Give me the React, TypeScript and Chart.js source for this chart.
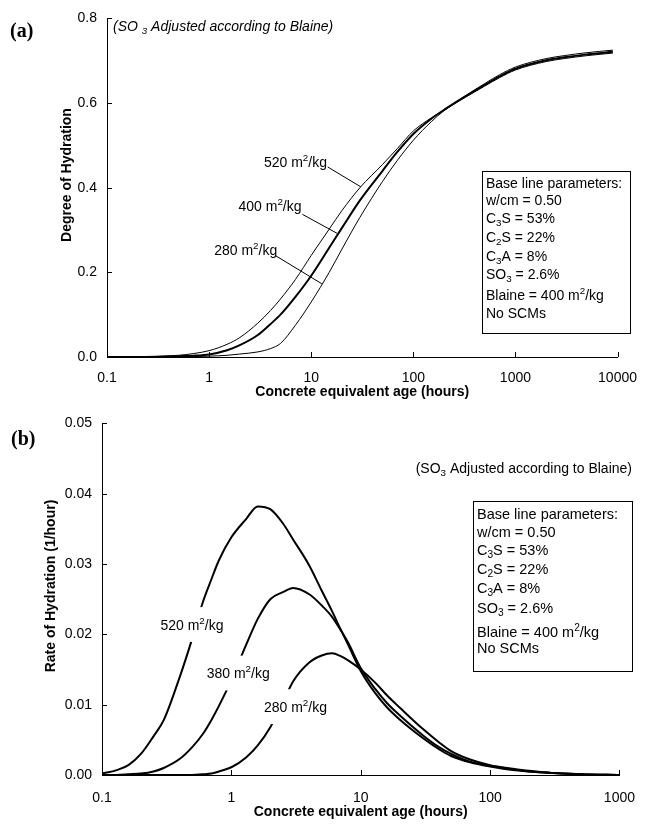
import React, { useEffect, useRef } from 'react';
import { Chart, registerables } from 'chart.js';

Chart.register(...registerables);

const FONT = "'Liberation Sans', Arial, Helvetica, sans-serif";
const SERIF = "'Liberation Serif', 'Times New Roman', serif";
Chart.defaults.font.family = FONT;
Chart.defaults.color = '#000';

// ---------- Panel (a): degree of hydration ----------
const ageA = [0.1, 0.2, 0.3, 0.5, 0.7, 1, 1.5, 2, 3, 4, 5, 7, 10, 15, 20, 30, 50, 70, 100, 150, 200, 300, 500, 700, 1000, 2000, 3000, 5000, 9000];
const doh520 = [0, 0.0005, 0.001, 0.004, 0.008, 0.015, 0.03, 0.046, 0.08, 0.11, 0.137, 0.183, 0.24, 0.302, 0.346, 0.4, 0.455, 0.493, 0.534, 0.565, 0.583, 0.609, 0.64, 0.66, 0.678, 0.698, 0.705, 0.712, 0.718];
const doh400 = [0, 0, 0.0005, 0.002, 0.003, 0.006, 0.016, 0.028, 0.052, 0.078, 0.1, 0.142, 0.192, 0.258, 0.305, 0.37, 0.44, 0.485, 0.527, 0.563, 0.584, 0.611, 0.643, 0.663, 0.681, 0.701, 0.708, 0.715, 0.721];
const doh280 = [0, 0, 0, 0.0003, 0.001, 0.002, 0.004, 0.007, 0.012, 0.02, 0.032, 0.075, 0.13, 0.2, 0.255, 0.33, 0.415, 0.465, 0.512, 0.556, 0.582, 0.612, 0.646, 0.667, 0.685, 0.705, 0.712, 0.719, 0.725];
const xTicksA = [0.1, 1, 10, 100, 1000, 10000];
const yTicksA = [0, 0.2, 0.4, 0.6, 0.8];

// ---------- Panel (b): rate of hydration ----------
const ageB = [0.1, 0.13, 0.16, 0.2, 0.25, 0.3, 0.4, 0.5, 0.6, 0.7, 0.8, 1, 1.3, 1.6, 2, 2.5, 3, 4, 5, 6, 7, 8, 10, 13, 16, 20, 30, 40, 50, 70, 100, 150, 200, 300, 500, 1000];
const rate520 = [0.0002, 0.0007, 0.0014, 0.003, 0.0055, 0.0078, 0.014, 0.0195, 0.0245, 0.0278, 0.0305, 0.0338, 0.0364, 0.0382, 0.0378, 0.0358, 0.0335, 0.0298, 0.0262, 0.0233, 0.0207, 0.0185, 0.0148, 0.0116, 0.0096, 0.0079, 0.0053, 0.0037, 0.0027, 0.0018, 0.0012, 0.0007, 0.0005, 0.0003, 0.0001, 0];
const rate380 = [0, 0, 0.0001, 0.0002, 0.0005, 0.001, 0.0023, 0.004, 0.0058, 0.0078, 0.0098, 0.0135, 0.0185, 0.0222, 0.025, 0.026, 0.0266, 0.0257, 0.0241, 0.0225, 0.0206, 0.0188, 0.0152, 0.0122, 0.0102, 0.0085, 0.0057, 0.004, 0.003, 0.0019, 0.0013, 0.0008, 0.0005, 0.0003, 0.0001, 0];
const rate280 = [0, 0, 0, 0, 0, 0, 0, 0, 0.0001, 0.0002, 0.0005, 0.0011, 0.0025, 0.0042, 0.0068, 0.0103, 0.0133, 0.016, 0.017, 0.0173, 0.0169, 0.0163, 0.015, 0.0131, 0.0113, 0.0096, 0.0066, 0.0047, 0.0034, 0.0022, 0.0014, 0.0009, 0.0006, 0.0003, 0.0001, 0];
const xTicksB = [0.1, 1, 10, 100, 1000];
const yTicksB = [0, 0.01, 0.02, 0.03, 0.04, 0.05];

const paramLines = [
  'Base line parameters:',
  'w/cm = 0.50',
  'C_3S = 53%',
  'C_2S = 22%',
  'C_3A = 8%',
  'SO_3 = 2.6%',
  'Blaine = 400 m^2/kg',
  'No SCMs',
];

// ---------- rich text helpers ----------
type Seg = { s: string; k: 'n' | 'sub' | 'sup' };
function parseRich(text: string): Seg[] {
  const segs: Seg[] = [];
  let buf = '';
  let i = 0;
  while (i < text.length) {
    const c = text[i];
    if ((c === '_' || c === '^') && i + 1 < text.length) {
      if (buf) { segs.push({ s: buf, k: 'n' }); buf = ''; }
      segs.push({ s: text[i + 1], k: c === '_' ? 'sub' : 'sup' });
      i += 2;
    } else {
      buf += c;
      i++;
    }
  }
  if (buf) segs.push({ s: buf, k: 'n' });
  return segs;
}
type RichOpt = { bold?: boolean; italic?: boolean; family?: string; align?: 'left' | 'center' | 'right'; bg?: { px: number; py: number } };
function fontStr(size: number, o: RichOpt) {
  return `${o.italic ? 'italic ' : ''}${o.bold ? 'bold ' : ''}${size}px ${o.family || FONT}`;
}
function drawRich(ctx: CanvasRenderingContext2D, text: string, x: number, y: number, size: number, o: RichOpt) {
  const segs = parseRich(text);
  let w = 0;
  segs.forEach((sg) => {
    ctx.font = fontStr(sg.k === 'n' ? size : size * 0.7, o);
    w += ctx.measureText(sg.s).width;
  });
  const x0 = o.align === 'center' ? x - w / 2 : o.align === 'right' ? x - w : x;
  if (o.bg) {
    ctx.fillStyle = '#fff';
    ctx.fillRect(x0 - o.bg.px, y - size * 0.6 - o.bg.py, w + 2 * o.bg.px, size * 1.2 + 2 * o.bg.py);
  }
  ctx.fillStyle = '#000';
  ctx.textAlign = 'left';
  ctx.textBaseline = 'alphabetic';
  const base = y + size * 0.36;
  let cx = x0;
  segs.forEach((sg) => {
    const sz = sg.k === 'n' ? size : size * 0.7;
    ctx.font = fontStr(sz, o);
    const dy = sg.k === 'sub' ? size * 0.22 : sg.k === 'sup' ? -size * 0.4 : 0;
    ctx.fillText(sg.s, cx, base + dy);
    cx += ctx.measureText(sg.s).width;
  });
}

type CurveLabel = { text: string; t: number; v: number; from?: [number, number]; to?: [number, number]; bg?: { px: number; py: number } };
type NotesCfg = {
  panel: { text: string; x: number; y: number };
  note: { text: string; x: number; y: number; italic: boolean; align: 'left' | 'right' };
  yTitle: { text: string; x: number; y: number };
  box: { x: number; y: number; w: number; h: number; tx: number; ys: number[]; size: number };
  labels: CurveLabel[];
};

function makeNotes(cfg: NotesCfg) {
  return {
    id: 'notes',
    afterDraw(chart: any) {
      const ctx: CanvasRenderingContext2D = chart.ctx;
      const xs = chart.scales.x;
      const ys = chart.scales.y;
      const a = chart.chartArea;
      ctx.save();
      // inward tick marks
      ctx.strokeStyle = '#000';
      ctx.lineWidth = 1;
      ctx.beginPath();
      xs.ticks.forEach((t: any) => {
        const px = Math.round(xs.getPixelForValue(t.value)) + 0.5;
        ctx.moveTo(px, a.bottom);
        ctx.lineTo(px, a.bottom - 5);
      });
      ys.ticks.forEach((t: any) => {
        const py = Math.round(ys.getPixelForValue(t.value)) + 0.5;
        ctx.moveTo(a.left, py);
        ctx.lineTo(a.left + 5, py);
      });
      ctx.stroke();
      // leader lines
      cfg.labels.forEach((l) => {
        if (l.from && l.to) {
          ctx.beginPath();
          ctx.lineWidth = 1;
          ctx.strokeStyle = '#000';
          ctx.moveTo(xs.getPixelForValue(l.from[0]), ys.getPixelForValue(l.from[1]));
          ctx.lineTo(xs.getPixelForValue(l.to[0]), ys.getPixelForValue(l.to[1]));
          ctx.stroke();
        }
      });
      // curve labels
      cfg.labels.forEach((l) => {
        drawRich(ctx, l.text, xs.getPixelForValue(l.t), ys.getPixelForValue(l.v), 14, { align: 'center', bg: l.bg });
      });
      // panel letter
      drawRich(ctx, cfg.panel.text, cfg.panel.x, cfg.panel.y, 20, { bold: true, family: SERIF, align: 'left' });
      // note
      drawRich(ctx, cfg.note.text, cfg.note.x, cfg.note.y, 14, { italic: cfg.note.italic, align: cfg.note.align });
      // y title
      ctx.save();
      ctx.translate(cfg.yTitle.x, cfg.yTitle.y);
      ctx.rotate(-Math.PI / 2);
      drawRich(ctx, cfg.yTitle.text, 0, 0, 14, { bold: true, align: 'center' });
      ctx.restore();
      // parameter box
      const b = cfg.box;
      ctx.fillStyle = '#fff';
      ctx.fillRect(b.x, b.y, b.w, b.h);
      ctx.strokeStyle = '#000';
      ctx.lineWidth = 1;
      ctx.strokeRect(b.x + 0.5, b.y + 0.5, b.w, b.h);
      paramLines.forEach((line, i) => {
        drawRich(ctx, line, b.tx, b.ys[i], b.size, { align: 'left' });
      });
      ctx.restore();
    },
  };
}

function series(xs: number[], ys: number[], width: number) {
  return {
    data: xs.map((x, i) => ({ x, y: ys[i] })),
    borderColor: '#000',
    backgroundColor: '#000',
    borderWidth: width,
    showLine: true,
    pointRadius: 0,
    cubicInterpolationMode: 'monotone',
    fill: false,
  };
}

function axisOpts(opts: {
  xMin: number; xMax: number; xTicks: number[]; yMax: number; yTicks: number[]; yDec: number;
  xHeight: number; yWidth: number; xPad: number; titlePad: number;
}) {
  return {
    x: {
      type: 'logarithmic',
      position: 'bottom',
      min: opts.xMin,
      max: opts.xMax,
      afterBuildTicks: (s: any) => { s.ticks = opts.xTicks.map((v) => ({ value: v })); },
      afterFit: (s: any) => { s.height = opts.xHeight; },
      grid: { display: false, drawTicks: false },
      border: { display: true, color: '#000', width: 1 },
      ticks: { padding: opts.xPad, color: '#000', autoSkip: false, maxRotation: 0, font: { family: FONT, size: 14 }, callback: (v: any) => String(v) },
      title: { display: true, text: 'Concrete equivalent age (hours)', color: '#000', font: { family: FONT, size: 14, weight: 'bold' }, padding: { top: 0, bottom: opts.titlePad } },
    },
    y: {
      type: 'linear',
      min: 0,
      max: opts.yMax,
      afterBuildTicks: (s: any) => { s.ticks = opts.yTicks.map((v) => ({ value: v })); },
      afterFit: (s: any) => { s.width = opts.yWidth; },
      grid: { display: false, drawTicks: false },
      border: { display: true, color: '#000', width: 1 },
      ticks: { padding: 10, color: '#000', font: { family: FONT, size: 14 }, callback: (v: any) => Number(v).toFixed(opts.yDec) },
    },
  };
}

function configA() {
  const notes = makeNotes({
    panel: { text: '(a)', x: 10, y: 30 },
    note: { text: '(SO _3 Adjusted according to Blaine)', x: 113, y: 26, italic: true, align: 'left' },
    yTitle: { text: 'Degree of Hydration', x: 66, y: 175 },
    box: { x: 482, y: 171, w: 148, h: 162, tx: 486, ys: [183, 200, 218, 237, 256, 274, 295, 313], size: 14 },
    labels: [
      { text: '520 m^2/kg', t: 7.0, v: 0.461, from: [14.5, 0.449], to: [30.6, 0.402] },
      { text: '400 m^2/kg', t: 3.95, v: 0.358, from: [8.2, 0.337], to: [18.0, 0.292] },
      { text: '280 m^2/kg', t: 2.28, v: 0.253, from: [4.5, 0.239], to: [12.7, 0.173] },
    ],
  });
  return {
    type: 'scatter',
    data: { datasets: [series(ageA, doh520, 1), series(ageA, doh400, 2), series(ageA, doh280, 1)] },
    options: {
      responsive: false,
      animation: false,
      devicePixelRatio: 1,
      events: [],
      layout: { padding: { top: 15, right: 20, left: 0, bottom: 0 } },
      plugins: { legend: { display: false }, tooltip: { enabled: false } },
      scales: axisOpts({ xMin: 0.1, xMax: 10000, xTicks: xTicksA, yMax: 0.8, yTicks: yTicksA, yDec: 1, xHeight: 48, yWidth: 107, xPad: 13, titlePad: 4 }),
    },
    plugins: [notes],
  };
}

function configB() {
  const notes = makeNotes({
    panel: { text: '(b)', x: 11, y: 33 },
    note: { text: '(SO_3 Adjusted according to Blaine)', x: 632, y: 63, italic: false, align: 'right' },
    yTitle: { text: 'Rate of Hydration (1/hour)', x: 50, y: 181 },
    box: { x: 473, y: 96, w: 159, h: 170, tx: 477, ys: [109, 127, 145, 164, 183, 203, 227, 243], size: 14.5 },
    labels: [
      { text: '520 m^2/kg', t: 0.496, v: 0.0214, bg: { px: 2, py: 9 } },
      { text: '380 m^2/kg', t: 1.129, v: 0.0145, bg: { px: 2, py: 9 } },
      { text: '280 m^2/kg', t: 3.13, v: 0.00972, bg: { px: 2, py: 9 } },
    ],
  });
  return {
    type: 'scatter',
    data: { datasets: [series(ageB, rate520, 2), series(ageB, rate380, 2), series(ageB, rate280, 2)] },
    options: {
      responsive: false,
      animation: false,
      devicePixelRatio: 1,
      events: [],
      layout: { padding: { top: 15, right: 16, left: 0, bottom: 0 } },
      plugins: { legend: { display: false }, tooltip: { enabled: false } },
      scales: axisOpts({ xMin: 0.1, xMax: 1000, xTicks: xTicksB, yMax: 0.05, yTicks: yTicksB, yDec: 2, xHeight: 52, yWidth: 102, xPad: 15, titlePad: 6 }),
    },
    plugins: [notes],
  };
}

function ChartCanvas({ top, width, height, make }: { top: number; width: number; height: number; make: () => any }) {
  const ref = useRef<HTMLCanvasElement>(null);
  useEffect(() => {
    const chart = new Chart(ref.current as HTMLCanvasElement, make());
    return () => chart.destroy();
  }, []);
  return (
    <canvas
      ref={ref}
      width={width}
      height={height}
      style={{ position: 'absolute', left: 0, top, width, height, display: 'block' }}
    />
  );
}

export default function App() {
  return (
    <div style={{ position: 'absolute', left: 0, top: 0, width: 650, height: 827, background: '#fff', overflow: 'hidden' }}>
      <ChartCanvas top={0} width={650} height={405} make={configA} />
      <ChartCanvas top={405} width={650} height={422} make={configB} />
    </div>
  );
}
